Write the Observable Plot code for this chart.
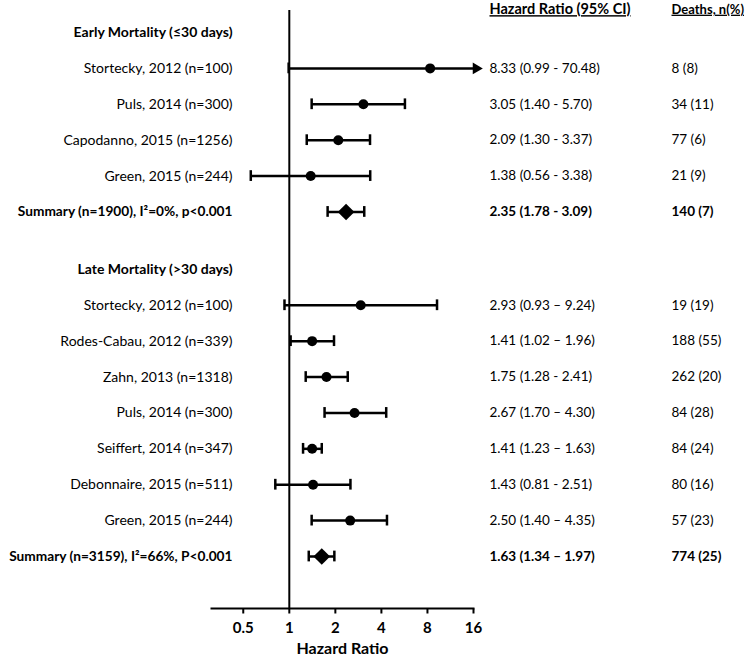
<!DOCTYPE html>
<html>
<head>
<meta charset="utf-8">
<script src="https://cdn.jsdelivr.net/npm/d3@7"></script>
<script src="https://cdn.jsdelivr.net/npm/@observablehq/plot@0.6"></script>
<style>
  html, body { margin: 0; padding: 0; background: #fff; }
</style>
</head>
<body>
<div id="chart"></div>
<script>
// ---- Data ----
const groupHeaders = ["Early Mortality (≤30 days)", "Late Mortality (>30 days)"];

const earlyStudies = ["Stortecky, 2012 (n=100)", "Puls, 2014 (n=300)", "Capodanno, 2015 (n=1256)", "Green, 2015 (n=244)", "Summary (n=1900), I²=0%, p<0.001"];
const earlyHR = [8.33, 3.05, 2.09, 1.38, 2.35];
const earlyLo = [0.99, 1.40, 1.30, 0.56, 1.78];
const earlyHi = [70.48, 5.70, 3.37, 3.38, 3.09];
const earlyCI = ["8.33 (0.99 - 70.48)", "3.05 (1.40 - 5.70)", "2.09 (1.30 - 3.37)", "1.38 (0.56 - 3.38)", "2.35 (1.78 - 3.09)"];
const earlyDeaths = ["8 (8)", "34 (11)", "77 (6)", "21 (9)", "140 (7)"];

const lateStudies = ["Stortecky, 2012 (n=100)", "Rodes-Cabau, 2012 (n=339)", "Zahn, 2013 (n=1318)", "Puls, 2014 (n=300)", "Seiffert, 2014 (n=347)", "Debonnaire, 2015 (n=511)", "Green, 2015 (n=244)", "Summary (n=3159), I²=66%, P<0.001"];
const lateHR = [2.93, 1.41, 1.75, 2.67, 1.41, 1.43, 2.50, 1.63];
const lateLo = [0.93, 1.02, 1.28, 1.70, 1.23, 0.81, 1.40, 1.34];
const lateHi = [9.24, 1.96, 2.41, 4.30, 1.63, 2.51, 4.35, 1.97];
const lateCI = ["2.93 (0.93 – 9.24)", "1.41 (1.02 – 1.96)", "1.75 (1.28 - 2.41)", "2.67 (1.70 – 4.30)", "1.41 (1.23 – 1.63)", "1.43 (0.81 - 2.51)", "2.50 (1.40 – 4.35)", "1.63 (1.34 – 1.97)"];
const lateDeaths = ["19 (19)", "188 (55)", "262 (20)", "84 (28)", "84 (24)", "80 (16)", "57 (23)", "774 (25)"];

const xTicks = [0.5, 1, 2, 4, 8, 16];
const xTickLabels = ["0.5", "1", "2", "4", "8", "16"];
const columnHeaders = ["Hazard Ratio (95% CI)", "Deaths, n(%)"];

// ---- Build rows ----
const groups = [
  {header: groupHeaders[0], studies: earlyStudies, hr: earlyHR, lo: earlyLo, hi: earlyHi, ci: earlyCI, deaths: earlyDeaths},
  {header: groupHeaders[1], studies: lateStudies, hr: lateHR, lo: lateLo, hi: lateHi, ci: lateCI, deaths: lateDeaths}
];
const GAP = 1.6;
const rows = [];
let pos = 0;
groups.forEach((g, gi) => {
  if (gi > 0) pos += GAP;
  rows.push({type: "header", label: g.header, y: pos});
  g.studies.forEach((s, i) => {
    pos += 1;
    rows.push({
      type: i === g.studies.length - 1 ? "summary" : "study",
      label: s, hr: g.hr[i], lo: g.lo[i], hi: g.hi[i], ci: g.ci[i], deaths: g.deaths[i], y: pos
    });
  });
});
const XMIN = 0.31, XMAX = 16;
const est = rows.filter(d => d.type !== "header");
const studies = est.filter(d => d.type === "study");
const summaries = est.filter(d => d.type === "summary");
const headersRows = rows.filter(d => d.type === "header");
const CAP = 0.15;
const tickData = xTicks.map((v, i) => ({v, label: xTickLabels[i]}));
const tickSymbol = {draw(ctx) { ctx.moveTo(0, 0); ctx.lineTo(0, 5); }};

const chart = Plot.plot({
  width: 750,
  height: 660,
  marginLeft: 211,
  marginRight: 277,
  marginTop: 10,
  marginBottom: 52,
  style: {fontFamily: "Lato, sans-serif", fontSize: "14px", color: "#000", background: "#fff"},
  x: {type: "log", domain: [XMIN, XMAX], axis: null},
  y: {domain: [0, pos], range: [32, 556], axis: null},
  marks: [
    Plot.ruleX([1], {stroke: "#000", strokeWidth: 2}),
    Plot.frame({anchor: "bottom", stroke: "#000", strokeWidth: 2}),
    // x axis ticks and labels
    Plot.dot(tickData, {x: "v", frameAnchor: "bottom", symbol: tickSymbol, stroke: "#000", strokeWidth: 2, fill: "none"}),
    Plot.text(tickData, {x: "v", text: "label", frameAnchor: "bottom", dy: 20, lineAnchor: "middle", fontSize: 15, fontWeight: "bold", fill: "#000"}),
    Plot.text(["Hazard Ratio"], {text: d => d, frameAnchor: "bottom", dy: 40, lineAnchor: "middle", fontSize: 16, fontWeight: "bold", fill: "#000"}),
    // CI lines
    Plot.ruleY(est, {y: "y", x1: "lo", x2: d => Math.min(d.hi, XMAX), stroke: "#000", strokeWidth: 2.5}),
    // caps
    Plot.ruleX(est, {x: "lo", y1: d => d.y - CAP, y2: d => d.y + CAP, stroke: "#000", strokeWidth: 2.5}),
    Plot.ruleX(est.filter(d => d.hi <= XMAX), {x: "hi", y1: d => d.y - CAP, y2: d => d.y + CAP, stroke: "#000", strokeWidth: 2.5}),
    // arrow head for truncated CI
    Plot.dot(est.filter(d => d.hi > XMAX), {x: () => XMAX * 1.04, y: "y", symbol: "triangle", rotate: 90, r: 4.3, fill: "#000"}),
    // point estimates
    Plot.dot(studies, {x: "hr", y: "y", r: 5, fill: "#000"}),
    Plot.dot(summaries, {x: "hr", y: "y", symbol: "diamond2", r: 7.5, fill: "#000"}),
    // left labels
    Plot.text(studies, {y: "y", text: "label", frameAnchor: "left", dx: 21, textAnchor: "end", fontSize: 14, fill: "#000"}),
    Plot.text(headersRows, {y: "y", text: "label", frameAnchor: "left", dx: 21, textAnchor: "end", fontSize: 14, fontWeight: "bold", fill: "#000"}),
    Plot.text(summaries, {y: "y", text: "label", frameAnchor: "left", dx: 21, textAnchor: "end", fontSize: 13.7, fontWeight: "bold", fill: "#000"}),
    // right columns
    Plot.text(studies, {y: "y", text: "ci", frameAnchor: "right", dx: 16, textAnchor: "start", fontSize: 13.5, fill: "#000"}),
    Plot.text(summaries, {y: "y", text: "ci", frameAnchor: "right", dx: 16, textAnchor: "start", fontSize: 13.5, fontWeight: "bold", fill: "#000"}),
    Plot.text(studies, {y: "y", text: "deaths", frameAnchor: "right", dx: 198, textAnchor: "start", fontSize: 13.5, fill: "#000"}),
    Plot.text(summaries, {y: "y", text: "deaths", frameAnchor: "right", dx: 198, textAnchor: "start", fontSize: 13.5, fontWeight: "bold", fill: "#000"}),
    // column headers
    Plot.text([columnHeaders[0]], {text: d => d, frameAnchor: "top-right", dx: 16, dy: -1, textAnchor: "start", lineAnchor: "middle", fontSize: 14.5, fontWeight: "bold", fill: "#000"}),
    Plot.text([columnHeaders[1]], {text: d => d, frameAnchor: "top-right", dx: 198, dy: -1, textAnchor: "start", lineAnchor: "middle", fontSize: 13, fontWeight: "bold", fill: "#000"})
  ]
});

d3.select(chart).selectAll("text")
  .filter(function() { return columnHeaders.includes(this.textContent); })
  .style("text-decoration", "underline");

document.getElementById("chart").appendChild(chart);
</script>
</body>
</html>
